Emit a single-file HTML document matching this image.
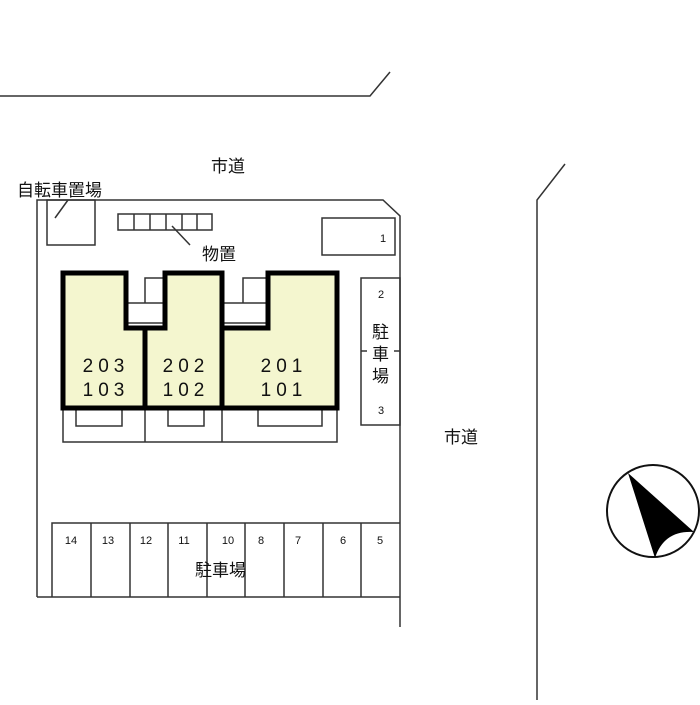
<!DOCTYPE html>
<html><head><meta charset="utf-8"><style>
body{margin:0;background:#fff}
svg text{font-family:"Liberation Sans","Noto Sans CJK JP",sans-serif;fill:#111}
</style></head><body>
<svg width="700" height="700" viewBox="0 0 700 700" xmlns="http://www.w3.org/2000/svg">
<g fill="none" stroke="#333" stroke-width="1.5">
<polyline points="0,96 370,96 390,72"/>
<polyline points="537,700 537,200 565,164"/>
<polyline points="37,597 37,200 383,200 400,216 400,627"/>
<rect x="47" y="200" width="48" height="45"/>
<line x1="55" y1="218" x2="68" y2="200"/>
<rect x="118" y="214" width="94" height="16"/>
<line x1="134" y1="214" x2="134" y2="230"/><line x1="150" y1="214" x2="150" y2="230"/><line x1="166" y1="214" x2="166" y2="230"/><line x1="182" y1="214" x2="182" y2="230"/><line x1="197" y1="214" x2="197" y2="230"/>
<line x1="172" y1="226" x2="190" y2="245"/>
<rect x="322" y="218" width="73" height="37"/>
<rect x="361" y="278" width="39" height="147"/>
<line x1="361" y1="351" x2="367" y2="351"/><line x1="394" y1="351" x2="400" y2="351"/>
<polyline points="63,408 63,442 337,442 337,408"/>
<line x1="145" y1="408" x2="145" y2="442"/><line x1="222" y1="408" x2="222" y2="442"/>
<polyline points="76,408 76,426 122,426 122,408"/>
<polyline points="168,408 168,426 204,426 204,408"/>
<polyline points="258,408 258,426 322,426 322,408"/>
<rect x="126" y="303" width="39" height="20"/>
<polyline points="145,303 145,278 165,278"/>
<rect x="222" y="303" width="46" height="20"/>
<polyline points="243,303 243,278 268,278"/>
<polyline points="37,597 400,597"/>
<polyline points="52,597 52,523 400,523"/>
<line x1="91" y1="523" x2="91" y2="597"/><line x1="130" y1="523" x2="130" y2="597"/><line x1="168" y1="523" x2="168" y2="597"/><line x1="207" y1="523" x2="207" y2="597"/><line x1="245" y1="523" x2="245" y2="597"/><line x1="284" y1="523" x2="284" y2="597"/><line x1="323" y1="523" x2="323" y2="597"/><line x1="361" y1="523" x2="361" y2="597"/>
</g>
<path d="M63,273 H126 V328 H165 V273 H222 V328 H268 V273 H337 V408 H63 Z" fill="#f4f6cf" stroke="#000" stroke-width="5"/>
<line x1="145" y1="328" x2="145" y2="408" stroke="#000" stroke-width="5"/>
<line x1="222" y1="328" x2="222" y2="408" stroke="#000" stroke-width="5"/>
<g font-size="19" text-anchor="middle" letter-spacing="5">
<text x="106" y="372">203</text><text x="106" y="396">103</text>
<text x="186" y="372">202</text><text x="186" y="396">102</text>
<text x="284" y="372">201</text><text x="284" y="396">101</text>
</g>
<g font-size="17">
<text x="211" y="172">市道</text>
<text x="444" y="443">市道</text>
<text x="17" y="196">自転車置場</text>
<text x="202" y="260">物置</text>
<text x="195" y="576">駐車場</text>
<text x="372" y="338">駐</text><text x="372" y="360">車</text><text x="372" y="382">場</text>
</g>
<g font-size="11" text-anchor="middle">
<text x="383" y="242">1</text><text x="381" y="298">2</text><text x="381" y="414">3</text>
<text x="71" y="544">14</text><text x="108" y="544">13</text><text x="146" y="544">12</text><text x="184" y="544">11</text><text x="228" y="544">10</text><text x="261" y="544">8</text><text x="298" y="544">7</text><text x="343" y="544">6</text><text x="380" y="544">5</text>
</g>
<circle cx="653" cy="511" r="46" fill="none" stroke="#111" stroke-width="2"/>
<path d="M628,473 L694,532 Q664,530 655,558 Z" fill="#000"/>
</svg>
</body></html>
